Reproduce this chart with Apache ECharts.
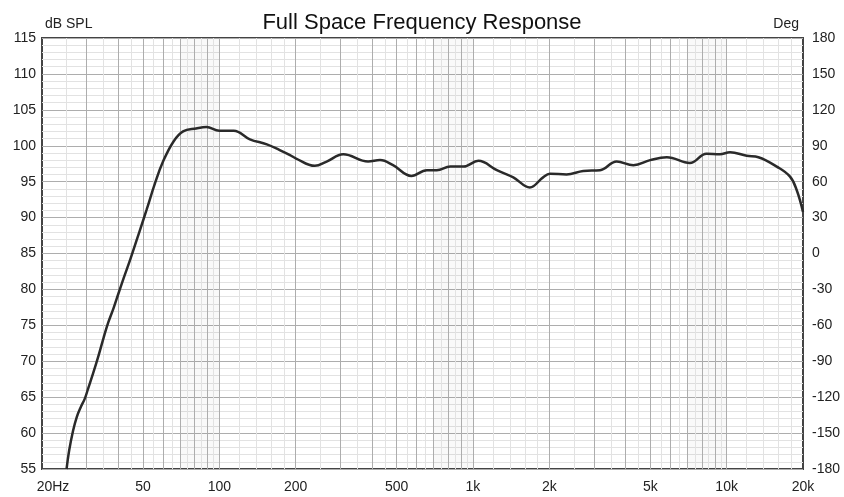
<!DOCTYPE html>
<html>
<head>
<meta charset="utf-8">
<script src="https://cdn.jsdelivr.net/npm/echarts@6/dist/echarts.min.js"></script>
<style>
html,body{margin:0;padding:0;background:#fff;}
#chart{width:844px;height:497px;}
</style>
</head>
<body>
<div id="chart"></div>
<script>
// Frequency (Hz) and SPL (dB)
var freq = [25, 25.6, 26.5, 27.4, 28.5, 29.5, 30.4, 31.8, 33.3, 35, 36.5, 38.3, 40, 42, 44.5, 48.7, 51.7, 55.8, 60, 66, 72, 81, 89, 100, 114, 132, 154, 173, 190, 200, 238, 265, 308, 386, 430, 484, 572, 658, 720, 814, 918, 1050, 1242, 1442, 1676, 1890, 2010, 2338, 2720, 3168, 3686, 4290, 4992, 5810, 7160, 8334, 9408, 10312, 11994, 13340, 15760, 17780, 18900, 20000];
var spl = [55, 57.6, 60.3, 62.2, 63.7, 64.8, 66.2, 68.3, 70.6, 73.3, 75.4, 77.4, 79.4, 81.6, 84.1, 88.3, 91.1, 94.8, 97.8, 100.6, 102.0, 102.4, 102.6, 102.1, 102.1, 100.9, 100.2, 99.4, 98.7, 98.25, 97.2, 97.8, 98.8, 97.8, 98.0, 97.3, 95.8, 96.6, 96.6, 97.1, 97.1, 97.9, 96.6, 95.6, 94.2, 95.6, 96.1, 96.0, 96.5, 96.6, 97.8, 97.3, 98.0, 98.4, 97.6, 98.9, 98.8, 99.1, 98.6, 98.4, 97.1, 95.7, 93.8, 90.8];
var xTickLabels = [20, 50, 100, 200, 500, 1000, 2000, 5000, 10000, 20000];
var decades = [10, 100, 1000, 10000];
var majorMultipliers = [1, 2, 3, 4, 5, 6, 7, 8, 9];
var minorMultipliers = [1.2, 1.4, 1.6, 1.8, 2.5, 3.5, 4.5, 5.5, 6.5, 7.5, 8.5, 9.5];
var shadedBands = [[70, 100], [700, 1000], [7000, 10000]];

var fontFam = '"Liberation Sans", Arial, sans-serif';

var gridLines = [];
decades.forEach(function (d) {
  majorMultipliers.forEach(function (m) {
    var v = m * d;
    if (v > 20 && v < 20000) gridLines.push({ xAxis: v, lineStyle: { color: '#adadad', width: 1, type: 'solid' } });
  });
  minorMultipliers.forEach(function (m) {
    var v = m * d;
    if (v > 20 && v < 20000) gridLines.push({ xAxis: v, lineStyle: { color: '#e2e2e2', width: 1, type: 'solid' } });
  });
});

var chart = echarts.init(document.getElementById('chart'), null, { renderer: 'canvas' });
chart.setOption({
  animation: false,
  backgroundColor: '#fff',
  title: {
    text: 'Full Space Frequency Response',
    left: 'center',
    top: 7,
    textStyle: { fontFamily: fontFam, fontSize: 22, fontWeight: 'normal', color: '#111' }
  },
  graphic: [
    { type: 'text', left: 45, top: 17, style: { text: 'dB SPL', fontFamily: fontFam, fontSize: 14, fill: '#222' } },
    { type: 'text', right: 45, top: 17, style: { text: 'Deg', fontFamily: fontFam, fontSize: 14, fill: '#222' } }
  ],
  grid: { left: 42, right: 41, top: 38, bottom: 28, show: true, borderColor: '#444', borderWidth: 2, backgroundColor: 'transparent' },
  xAxis: {
    type: 'log',
    logBase: 10,
    min: 20,
    max: 20000,
    axisLine: { show: false },
    axisTick: { show: false },
    splitLine: { show: false },
    axisLabel: {
      customValues: xTickLabels,
      margin: 11,
      fontFamily: fontFam,
      fontSize: 14,
      color: '#222',
      formatter: function (v) {
        v = Math.round(v);
        if (v === 20) return '{hz|20Hz}';
        if (v >= 1000) return (v / 1000) + 'k';
        return String(v);
      },
      rich: { hz: { fontFamily: fontFam, fontSize: 14, color: '#222', padding: [0, 0, 0, 22] } }
    }
  },
  yAxis: [
    {
      type: 'value', min: 55, max: 115, interval: 5, position: 'left',
      axisLine: { show: false }, axisTick: { show: false },
      axisLabel: { margin: 6, fontFamily: fontFam, fontSize: 14, color: '#222' },
      splitLine: { show: true, lineStyle: { color: '#adadad', width: 1 } },
      minorTick: { show: false, splitNumber: 5 },
      minorSplitLine: { show: true, lineStyle: { color: '#e2e2e2', width: 1 } }
    },
    {
      type: 'value', min: -180, max: 180, interval: 30, position: 'right',
      axisLine: { show: false }, axisTick: { show: false },
      axisLabel: { margin: 9, fontFamily: fontFam, fontSize: 14, color: '#222' },
      splitLine: { show: false }
    }
  ],
  series: [
    {
      type: 'line',
      data: [],
      z: 1,
      silent: true,
      markArea: {
        silent: true,
        itemStyle: { color: 'rgba(0,0,0,0.025)' },
        data: shadedBands.map(function (b) { return [{ xAxis: b[0] }, { xAxis: b[1] }]; })
      },
      markLine: {
        silent: true,
        symbol: ['none', 'none'],
        label: { show: false },
        animation: false,
        data: gridLines
      }
    },
    {
      type: 'line',
      z: 5,
      smooth: 0.4,
      showSymbol: false,
      symbol: 'none',
      lineStyle: { color: '#2a2a2a', width: 2.5 },
      data: freq.map(function (f, i) { return [f, spl[i]]; })
    }
  ]
});
</script>
</body>
</html>
